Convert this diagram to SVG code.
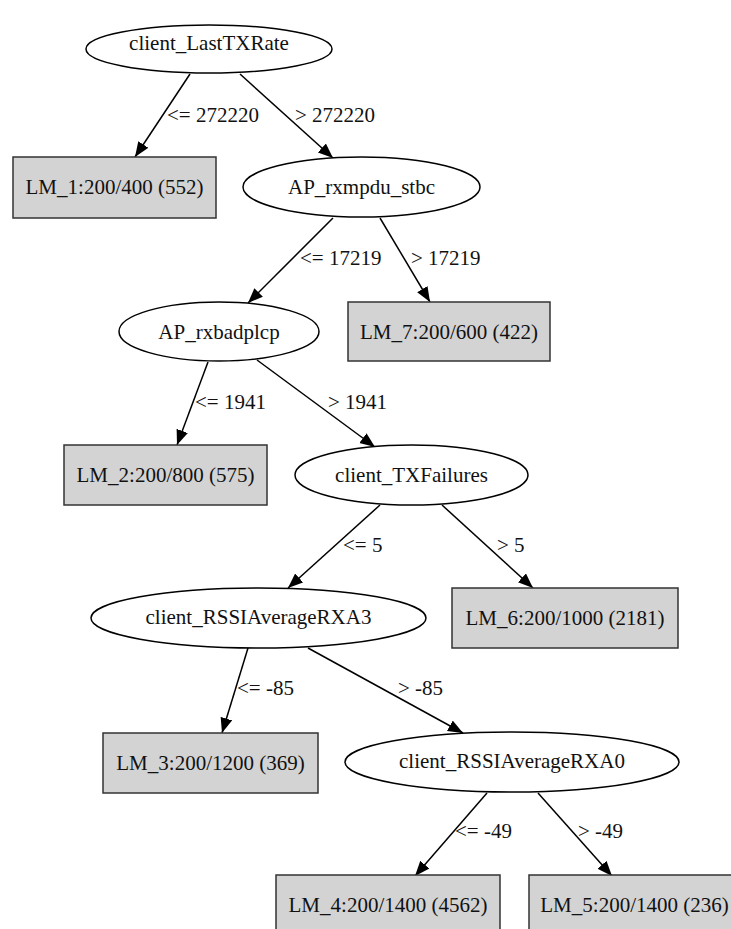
<svg xmlns="http://www.w3.org/2000/svg" width="731" height="929" viewBox="0 0 731 929">
<style>
.e{fill:#fff;stroke:#000;stroke-width:1.5}
.b{fill:#d3d3d3;stroke:#333;stroke-width:1.5}
text{font-family:"Liberation Serif","Times New Roman",serif;font-size:21px;fill:#111}
.c{text-anchor:middle}
.l{stroke:#000;stroke-width:1.5;fill:none;marker-end:url(#ah)}
</style>
<defs>
<marker id="ah" markerUnits="userSpaceOnUse" markerWidth="18" markerHeight="14" refX="15" refY="6" orient="auto">
<path d="M0,0 L15,6 L0,12 z" fill="#000"/>
</marker>
</defs>
<rect width="731" height="929" fill="#fff"/>
<g id="edges">
<line class="l" x1="190" y1="74" x2="135" y2="157"/>
<line class="l" x1="240" y1="74" x2="333" y2="158"/>
<line class="l" x1="333" y1="218" x2="248" y2="303"/>
<line class="l" x1="380" y1="218" x2="430" y2="302"/>
<line class="l" x1="208" y1="362" x2="177" y2="445"/>
<line class="l" x1="257" y1="360" x2="375" y2="447"/>
<line class="l" x1="380" y1="505" x2="288" y2="588"/>
<line class="l" x1="442" y1="505" x2="533" y2="588"/>
<line class="l" x1="248" y1="648" x2="222" y2="733"/>
<line class="l" x1="308" y1="648" x2="463" y2="733"/>
<line class="l" x1="487" y1="793" x2="415" y2="876"/>
<line class="l" x1="538" y1="793" x2="612" y2="876"/>
<text x="167" y="122">&lt;= 272220</text>
<text x="295" y="122">&gt; 272220</text>
<text x="300" y="265">&lt;= 17219</text>
<text x="411" y="265">&gt; 17219</text>
<text x="195" y="409">&lt;= 1941</text>
<text x="328" y="409">&gt; 1941</text>
<text x="343" y="552">&lt;= 5</text>
<text x="497" y="552">&gt; 5</text>
<text x="237" y="695">&lt;= -85</text>
<text x="398" y="695">&gt; -85</text>
<text x="455" y="838">&lt;= -49</text>
<text x="578" y="838">&gt; -49</text>
</g>
<g id="n_client_LastTXRate"><ellipse class="e" cx="209" cy="49" rx="123" ry="24"/><text class="c" x="209" y="50">client_LastTXRate</text></g>
<g id="n_LM_1"><rect class="b" x="13" y="157" width="203" height="61"/><text class="c" x="114.5" y="194">LM_1:200/400 (552)</text></g>
<g id="n_AP_rxmpdu_stbc"><ellipse class="e" cx="361.5" cy="187" rx="118.5" ry="30"/><text class="c" x="361.5" y="194">AP_rxmpdu_stbc</text></g>
<g id="n_LM_7"><rect class="b" x="348" y="302" width="202" height="59"/><text class="c" x="449" y="339">LM_7:200/600 (422)</text></g>
<g id="n_AP_rxbadplcp"><ellipse class="e" cx="219" cy="331.5" rx="100" ry="29.5"/><text class="c" x="219" y="339">AP_rxbadplcp</text></g>
<g id="n_LM_2"><rect class="b" x="64" y="445" width="203" height="60"/><text class="c" x="165.5" y="482">LM_2:200/800 (575)</text></g>
<g id="n_client_TXFailures"><ellipse class="e" cx="411.5" cy="475" rx="116.5" ry="30"/><text class="c" x="411.5" y="482">client_TXFailures</text></g>
<g id="n_LM_6"><rect class="b" x="452" y="588" width="226" height="60"/><text class="c" x="565" y="625">LM_6:200/1000 (2181)</text></g>
<g id="n_client_RSSIAverageRXA3"><ellipse class="e" cx="258.5" cy="618" rx="167.5" ry="30"/><text class="c" x="258.5" y="624">client_RSSIAverageRXA3</text></g>
<g id="n_LM_3"><rect class="b" x="103" y="733" width="215" height="60"/><text class="c" x="210.5" y="770">LM_3:200/1200 (369)</text></g>
<g id="n_client_RSSIAverageRXA0"><ellipse class="e" cx="512" cy="762" rx="167" ry="30"/><text class="c" x="512" y="768">client_RSSIAverageRXA0</text></g>
<g id="n_LM_4"><rect class="b" x="276" y="875" width="224" height="60"/><text class="c" x="388" y="912">LM_4:200/1400 (4562)</text></g>
<g id="n_LM_5"><rect class="b" x="529" y="875" width="212" height="60"/><text class="c" x="634.5" y="912">LM_5:200/1400 (236)</text></g>
</svg>
